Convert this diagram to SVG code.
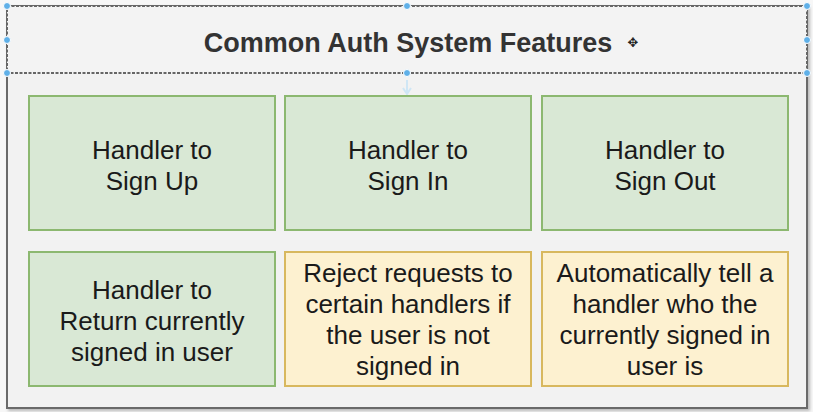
<svg xmlns="http://www.w3.org/2000/svg" width="813" height="412" viewBox="0 0 813 412">
<defs>
<style>
.box{stroke-width:2}
.g{fill:#d9e8d5;stroke:#8cb870}
.y{fill:#fdf1d0;stroke:#d8b85e}
.t{font-family:"Liberation Sans",Arial,sans-serif;font-size:26px;fill:#1a1a1a;text-anchor:middle}
.h{fill:#5fb0e8;stroke:#ffffff;stroke-width:1}
</style>
<filter id="sh" x="-5%" y="-5%" width="110%" height="110%"><feDropShadow dx="2" dy="2" stdDeviation="1.5" flood-color="#000" flood-opacity="0.25"/></filter>
</defs>
<rect width="813" height="412" fill="#f7f7f7"/>
<g id="container">
<rect x="7" y="6" width="800" height="402" fill="#f2f2f2" stroke="#6b6b6b" stroke-width="2" filter="url(#sh)"/>
</g>
<g id="header">
<rect x="7" y="6" width="800" height="67" fill="#f3f3f3" stroke="#666" stroke-width="2" stroke-dasharray="3 1.5"/>
<text x="408" y="51.5" font-family="'Liberation Sans',Arial,sans-serif" font-size="27" font-weight="bold" fill="#333" text-anchor="middle">Common Auth System Features</text>
<text x="633" y="47" font-family="'DejaVu Sans',sans-serif" font-size="13" fill="#222" text-anchor="middle">✥</text>
</g>
<g id="handles">
<circle class="h" cx="7" cy="6" r="3.5"/><circle class="h" cx="407" cy="6" r="3.5"/><circle class="h" cx="807" cy="6" r="3.5"/>
<circle class="h" cx="7" cy="40" r="3.5"/><circle class="h" cx="807" cy="40" r="3.5"/>
<circle class="h" cx="7" cy="73" r="3.5"/><circle class="h" cx="407" cy="73" r="3.5"/><circle class="h" cx="807" cy="73" r="3.5"/>
</g>
<g id="connectors">
<path d="M407 80 V92 M403 88 L407 94 L411 88" fill="none" stroke="#cfe6f5" stroke-width="2"/>
</g>
<g id="signup"><rect class="box g" x="29" y="96" width="246" height="134"/>
<text class="t" x="152" y="159">Handler to</text><text class="t" x="152" y="190">Sign Up</text></g>
<g id="signin"><rect class="box g" x="285" y="96" width="246" height="134"/>
<text class="t" x="408" y="159">Handler to</text><text class="t" x="408" y="190">Sign In</text></g>
<g id="signout"><rect class="box g" x="542" y="96" width="246" height="134"/>
<text class="t" x="665" y="159">Handler to</text><text class="t" x="665" y="190">Sign Out</text></g>
<g id="current"><rect class="box g" x="29" y="252" width="246" height="134"/>
<text class="t" x="152" y="299">Handler to</text><text class="t" x="152" y="330">Return currently</text><text class="t" x="152" y="361">signed in user</text></g>
<g id="reject"><rect class="box y" x="285" y="252" width="246" height="134"/>
<text class="t" x="408" y="282">Reject requests to</text><text class="t" x="408" y="313">certain handlers if</text><text class="t" x="408" y="344">the user is not</text><text class="t" x="408" y="375">signed in</text></g>
<g id="auto"><rect class="box y" x="542" y="252" width="246" height="134"/>
<text class="t" x="665" y="282">Automatically tell a</text><text class="t" x="665" y="313">handler who the</text><text class="t" x="665" y="344">currently signed in</text><text class="t" x="665" y="375">user is</text></g>
</svg>
